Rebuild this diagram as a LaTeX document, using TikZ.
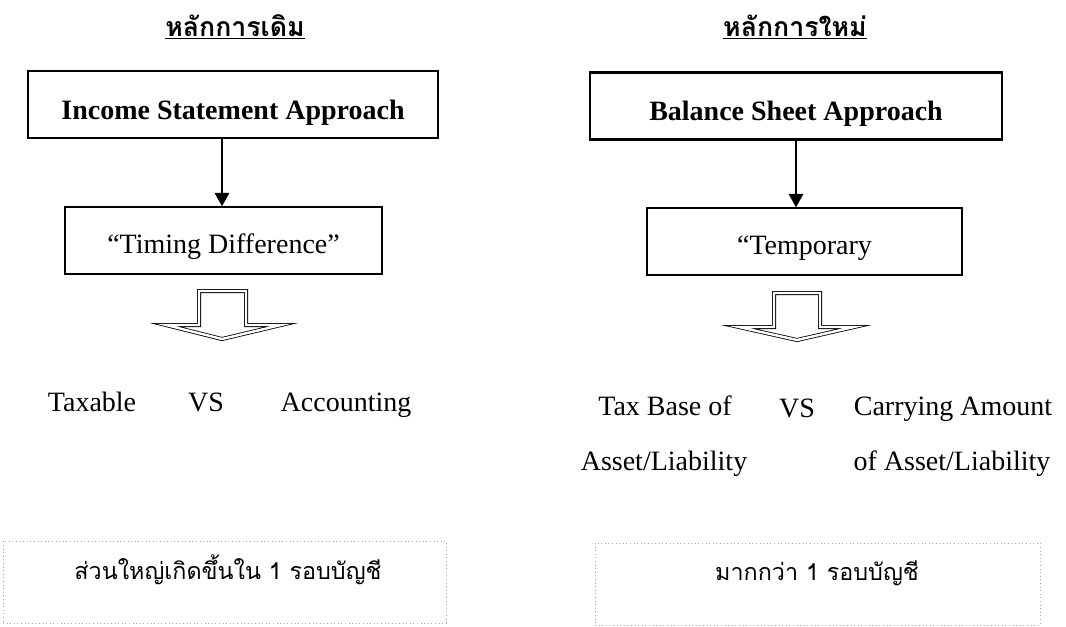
\documentclass[tikz,border=0pt]{standalone}
\usepackage{fontspec}
\setmainfont{Liberation Serif}
\newfontfamily\thaifont[Script=Thai]{Loma}
\usepackage{tikz}
\usetikzlibrary{arrows.meta}

\tikzset{
  approachbox/.style={draw, line width=1.6pt, minimum height=67*0.75pt, text height=22pt, text depth=0pt,
    font=\fontsize{21}{25}\selectfont\bfseries},
  diffbox/.style={draw, line width=1.2pt, minimum height=67*0.75pt, text height=19.5pt, text depth=0pt,
    font=\fontsize{21}{25}\selectfont},
  notebox/.style={draw=gray!70, dotted, line width=0.7pt, minimum height=82*0.75pt},
  plain/.style={anchor=base, font=\fontsize{21}{25}\selectfont},
  thaitext/.style={anchor=base, font=\thaifont\fontsize{17.5}{21}\selectfont},
  thaititle/.style={anchor=base, font=\thaifont\bfseries\fontsize{20}{24}\selectfont},
  downarrow/.style={line width=0.9pt, -{Triangle[length=10pt,width=11pt]}},
  blockarrow/.style={draw, double, double distance=1.8pt, line width=0.6pt, line join=miter}
}

\begin{document}
\begin{tikzpicture}[x=0.75pt, y=-0.75pt]
        \useasboundingbox (0,0) rectangle (1066,626);

        % old approach
        \node[thaititle] (oldtitle) at (235,36) {\underline{หลักการเดิม}};
        \node[approachbox, minimum width=410*0.75pt] (incbox) at (233,104.5) {Income Statement Approach};
        \node[diffbox, minimum width=317*0.75pt] (timebox) at (223.5,240.5) {“Timing Difference”};
        \coordinate (oldx) at (222,0);
        \draw[downarrow] (incbox.south -| oldx) -- (timebox.north -| oldx);
        \draw[blockarrow] (199,291) -- (246,291) -- (246,325) -- (281,325) -- (222,339)
                -- (166,325) -- (199,325) -- cycle;
        \node[plain] (taxable) at (92,411) {Taxable};
        \node[plain] (oldvs) at (206,411) {VS};
        \node[plain] (accounting) at (346,411) {Accounting};
        \node[notebox, minimum width=443*0.75pt] (oldnote) at (224.5,582) {};
        \node[thaitext] (oldnotetext) at (228,579) {ส่วนใหญ่เกิดขึ้นใน 1 รอบบัญชี};

        % new approach
        \node[thaititle] (newtitle) at (795,36) {\underline{หลักการใหม่}};
        \node[approachbox, minimum width=412*0.75pt] (balbox) at (796,106) {Balance Sheet Approach};
        \node[diffbox, minimum width=315*0.75pt] (tempbox) at (804.5,241.5) {“Temporary};
        \coordinate (newx) at (796,0);
        \draw[downarrow] (balbox.south -| newx) -- (tempbox.north -| newx);
        \draw[blockarrow] (774,293) -- (820,293) -- (820,327) -- (854,327) -- (797,340)
                -- (739,327) -- (774,327) -- cycle;
        \node[plain] (taxbase) at (665,415) {Tax Base of};
        \node[plain] (newvs) at (797,417) {VS};
        \node[plain] (carrying) at (953,415) {Carrying Amount};
        \node[plain] (taxbase2) at (664,470) {Asset/Liability};
        \node[plain] (carrying2) at (952,470) {of Asset/Liability};
        \node[notebox, minimum width=445*0.75pt] (newnote) at (817.5,584) {};
        \node[thaitext] (newnotetext) at (817,580) {มากกว่า 1 รอบบัญชี};
\end{tikzpicture}
\end{document}
